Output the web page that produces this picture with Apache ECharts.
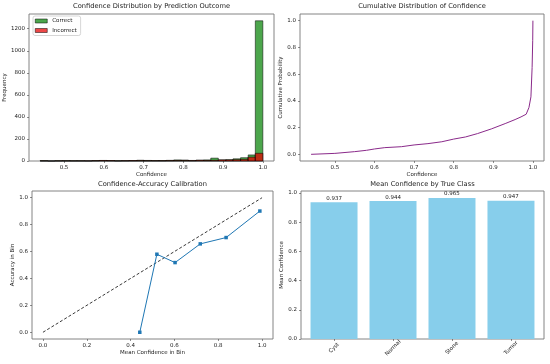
<!DOCTYPE html>
<html>
<head>
<meta charset="utf-8">
<script src="https://cdn.jsdelivr.net/npm/echarts@6/dist/echarts.min.js"></script>
<style>html,body{margin:0;padding:0;background:#fff;}#c{width:550px;height:364px;}</style>
</head>
<body>
<div id="c"></div>
<script>
// ---- Data ----
const histEdges = [0.440,0.459,0.477,0.496,0.515,0.533,0.552,0.571,0.589,0.608,0.627,0.645,0.664,0.683,0.701,0.720,0.739,0.757,0.776,0.795,0.813,0.832,0.851,0.869,0.888,0.907,0.925,0.944,0.963,0.981,1.000];
const correctCounts   = [3,0,2,3,2,2,1,4,5,4,2,3,4,7,5,4,4,6,10,9,5,8,10,26,10,12,20,30,55,1272];
const incorrectCounts = [1,0,1,1,1,1,1,2,4,3,1,2,3,3,2,2,2,3,4,4,3,6,5,6,10,10,12,15,35,70];
const cdfConf = [0.440,0.500,0.550,0.580,0.600,0.626,0.668,0.700,0.735,0.770,0.800,0.830,0.860,0.895,0.930,0.955,0.970,0.983,0.990,0.995,0.998,0.9995,1.000];
const cdfProb = [0.000,0.007,0.020,0.030,0.040,0.050,0.057,0.070,0.080,0.094,0.114,0.130,0.155,0.190,0.230,0.260,0.280,0.300,0.350,0.430,0.650,0.850,1.000];
const calibConf = [0.442,0.520,0.603,0.718,0.836,0.990];
const calibAcc  = [0.000,0.580,0.518,0.657,0.704,0.901];
const classNames = ['Cyst','Normal','Stone','Tumor'];
const classMeanConf = [0.937,0.944,0.965,0.947];
const confTicks = [0.5,0.6,0.7,0.8,0.9,1.0];
const freqTicks = [0,200,400,600,800,1000,1200];
const probTicks = [0,0.2,0.4,0.6,0.8,1.0];
const calibXTicks = [0,0.2,0.4,0.6,0.8,1.0];

// ---- Styles ----
const FONT = 'DejaVu Sans';
const TXT = '#222';
const FS = 5.5;
const TFS = 6.7;

function axisCommon(extra) {
  return Object.assign({
    axisLine: {show: false, onZero: false},
    splitLine: {show: false},
    axisTick: {show: true, length: 2, lineStyle: {color: '#444', width: 0.6}},
    axisLabel: {color: TXT, fontSize: FS, fontFamily: FONT, margin: 4},
    nameTextStyle: {color: TXT, fontSize: FS, fontFamily: FONT},
    nameLocation: 'middle'
  }, extra);
}
function valX(gi, min, max, ticks, name, fmt) {
  const a = axisCommon({type: 'value', gridIndex: gi, min: min, max: max, name: name, nameGap: 10});
  a.axisLabel = Object.assign({}, a.axisLabel, {customValues: ticks, formatter: fmt || (v => v.toFixed(1))});
  a.axisTick = Object.assign({}, a.axisTick, {customValues: ticks});
  return a;
}
function valY(gi, min, max, ticks, name, gap, fmt) {
  const a = axisCommon({type: 'value', gridIndex: gi, min: min, max: max, name: name, nameGap: gap, nameRotate: 90});
  a.axisLabel = Object.assign({}, a.axisLabel, {customValues: ticks, formatter: fmt || (v => v.toFixed(1))});
  a.axisTick = Object.assign({}, a.axisTick, {customValues: ticks});
  return a;
}

const gridBase = {show: true, borderColor: '#777', borderWidth: 0.9, backgroundColor: '#fff'};
const grids = [
  Object.assign({left: 29, top: 14, width: 245, height: 147}, gridBase),
  Object.assign({left: 300, top: 14, width: 244, height: 147}, gridBase),
  Object.assign({left: 32, top: 191, width: 241, height: 148}, gridBase),
  Object.assign({left: 301, top: 191, width: 243, height: 148}, gridBase)
];

function histData(counts) {
  return counts.map((c, i) => [histEdges[i], histEdges[i + 1], c]);
}
function histSeries(name, counts, color) {
  return {
    type: 'custom', name: name, xAxisIndex: 0, yAxisIndex: 0,
    encode: {x: [0, 1], y: 2},
    itemStyle: {color: color},
    data: histData(counts),
    renderItem: function (params, api) {
      const p0 = api.coord([api.value(0), 0]);
      const p1 = api.coord([api.value(1), api.value(2)]);
      return {
        type: 'rect',
        shape: {x: p0[0], y: p1[1], width: p1[0] - p0[0], height: p0[1] - p1[1]},
        style: {fill: color, stroke: '#000', lineWidth: 0.5}
      };
    }
  };
}

const GREEN = 'rgba(0,128,0,0.7)';
const RED = 'rgba(230,0,0,0.72)';

const titles = [
  {text: 'Confidence Distribution by Prediction Outcome', x: 151.5, y: 3},
  {text: 'Cumulative Distribution of Confidence', x: 422, y: 3},
  {text: 'Confidence-Accuracy Calibration', x: 152.5, y: 181},
  {text: 'Mean Confidence by True Class', x: 422.5, y: 181}
].map(t => ({
  text: t.text, left: t.x, top: t.y, textAlign: 'center', padding: 0,
  textStyle: {fontSize: TFS, fontWeight: 'normal', color: TXT, fontFamily: FONT}
}));

const option = {
  animation: false,
  backgroundColor: '#fff',
  title: titles,
  grid: grids,
  legend: {
    left: 33, top: 16, orient: 'vertical',
    itemWidth: 12, itemHeight: 4, itemGap: 3.5,
    padding: [2, 4, 2, 2],
    backgroundColor: '#fff', borderColor: '#ccc', borderWidth: 0.8, borderRadius: 2,
    textStyle: {fontSize: FS, color: TXT, fontFamily: FONT},
    data: [
      {name: 'Correct', icon: 'rect', itemStyle: {color: GREEN, borderColor: '#000', borderWidth: 0.5}},
      {name: 'Incorrect', icon: 'rect', itemStyle: {color: RED, borderColor: '#000', borderWidth: 0.5}}
    ]
  },
  xAxis: [
    valX(0, 0.412, 1.028, confTicks, 'Confidence'),
    valX(1, 0.412, 1.028, confTicks, 'Confidence'),
    valX(2, -0.05, 1.05, calibXTicks, 'Mean Confidence in Bin'),
    (function () {
      const a = axisCommon({type: 'value', gridIndex: 3, min: -0.56, max: 3.56});
      a.axisLabel = Object.assign({}, a.axisLabel, {
        customValues: [0, 1, 2, 3], rotate: 45, align: 'center', verticalAlign: 'middle', margin: 9,
        formatter: v => classNames[Math.round(v)]
      });
      a.axisTick = Object.assign({}, a.axisTick, {customValues: [0, 1, 2, 3]});
      return a;
    })()
  ],
  yAxis: [
    valY(0, 0, 1333.6, freqTicks, 'Frequency', 18, v => String(v)),
    valY(1, -0.05, 1.05, probTicks, 'Cumulative Probability', 14),
    valY(2, -0.05, 1.05, probTicks, 'Accuracy in Bin', 16),
    valY(3, 0, 1.0133, probTicks, 'Mean Confidence', 15)
  ],
  series: [
    histSeries('Correct', correctCounts, GREEN),
    histSeries('Incorrect', incorrectCounts, RED),
    {
      type: 'line', xAxisIndex: 1, yAxisIndex: 1, showSymbol: false, symbol: 'none',
      lineStyle: {color: '#8a2a8a', width: 1}, itemStyle: {color: '#8a2a8a'},
      data: cdfConf.map((c, i) => [c, cdfProb[i]])
    },
    {
      type: 'line', xAxisIndex: 2, yAxisIndex: 2, symbol: 'none',
      lineStyle: {color: '#222', width: 0.9, type: [3, 2]},
      data: [[0, 0], [1, 1]]
    },
    {
      type: 'line', xAxisIndex: 2, yAxisIndex: 2, symbol: 'rect', symbolSize: 3.5,
      lineStyle: {color: '#1f77b4', width: 1}, itemStyle: {color: '#1f77b4'},
      data: calibConf.map((c, i) => [c, calibAcc[i]])
    },
    {
      type: 'bar', xAxisIndex: 3, yAxisIndex: 3, barWidth: 47,
      itemStyle: {color: '#87CEEB'},
      label: {show: true, position: 'top', distance: 1, fontSize: FS, color: TXT, fontFamily: FONT,
        formatter: p => p.value[1].toFixed(3)},
      data: classMeanConf.map((v, i) => [i, v])
    }
  ]
};

const chart = echarts.init(document.getElementById('c'), null, {renderer: 'canvas'});
chart.setOption(option);
</script>
</body>
</html>
